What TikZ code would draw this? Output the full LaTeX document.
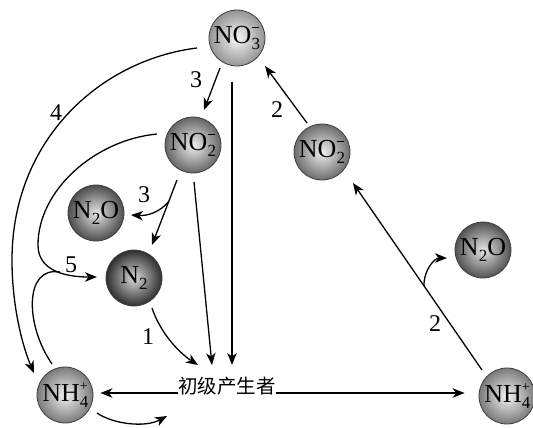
\documentclass[tikz,border=0pt]{standalone}
\usepackage{fontspec}
\setmainfont{Liberation Serif}
\newfontfamily\cjk{Noto Sans CJK SC}
\usetikzlibrary{arrows.meta,calc}

% small helpers for chemical formulas
\newcommand\subtxt[1]{\raisebox{-5.5pt}{\fontsize{17}{17}\selectfont #1}}
\newcommand\ionminus[2]{#1\rlap{\subtxt{#2}}\raisebox{16pt}{\rule{7.5pt}{1.1pt}}\kern1pt}
\newcommand\ionplus[2]{#1\rlap{\subtxt{#2}}\raisebox{11pt}{\fontsize{14}{14}\selectfont +}}

\tikzset{
  ball/.style={circle, minimum size=56pt, inner sep=0pt, draw=black!75,
    line width=0.8pt, font=\fontsize{26}{26}\selectfont},
  arr/.style={-{Stealth[length=12pt,width=9.5pt,inset=3.5pt]}, line width=1.3pt},
  plain/.style={line width=1.3pt},
  num/.style={font=\fontsize{24}{24}\selectfont, inner sep=0pt},
}

\begin{document}
\begin{tikzpicture}[x=1pt,y=-1pt]
\useasboundingbox (0,0) rectangle (533,428);

% molecules
\node[ball, inner color=black!3,  outer color=black!42] (no3)  at (237,38)  {\ionminus{NO}{3}};
\node[ball, inner color=black!6,  outer color=black!60] (no2a) at (193,145) {\ionminus{NO}{2}};
\node[ball, inner color=black!10, outer color=black!70] (n2oa) at (96,213)  {N\subtxt{2}O};
\node[ball, inner color=black!15, outer color=black!82] (n2)   at (134,278) {N\subtxt{2}};
\node[ball, inner color=black!5,  outer color=black!52] (nh4a) at (65,395)  {\ionplus{NH}{4}};
\node[ball, inner color=black!6,  outer color=black!57] (no2b) at (322,152) {\ionminus{NO}{2}};
\node[ball, inner color=black!10, outer color=black!68] (n2ob) at (483,250) {N\subtxt{2}O};
\node[ball, inner color=black!5,  outer color=black!52] (nh4b) at (507,396) {\ionplus{NH}{4}};

\node[inner sep=0pt, font=\cjk\fontsize{19.5}{19.5}\selectfont] (prod) at (227,386) {初级产生者};

% left cycle
\draw[arr] ($(no3)+(-17,30)$) -- ($(no2a)+(11,-35)$);
\draw[arr] ($(no3)+(-5,44)$) -- ($(prod)+(5,-21)$);
\draw[arr] ($(no2a)+(1,37)$) -- ($(prod)+(-15,-21)$);
\draw[arr] ($(no2a)+(-16,35)$) -- coordinate[pos=0.33] (fork1) ($(n2)+(18,-33)$);
\draw[arr] (fork1) .. controls (160,212) and (148,216) .. ($(n2oa)+(35,2)$);
\draw[arr] ($(n2)+(18,30)$) .. controls (160,332) and (178,352) .. ($(prod)+(-29,-21)$);

% nitrate to ammonium
\draw[arr] ($(no3)+(-40,10)$) .. controls (100,60) and (12,140) .. (12,260)
  .. controls (12,310) and (24,350) .. ($(nh4a)+(-31,-22)$);

% nitrite to dinitrogen, joined by the branch from ammonium
\draw[arr] ($(no2a)+(-36,-11)$) .. controls (95,140) and (38,190) .. (38,245)
  .. controls (38,268) and (60,277) .. ($(n2)+(-37,-1)$);
\coordinate (join5) at (60,272);
\draw[plain] ($(nh4a)+(-13,-31)$) .. controls (25,325) and (24,266) .. (join5);

% ammonium leaving at the bottom
\coordinate (loopend) at (167,416);
\draw[arr] ($(nh4a)+(32,18)$) .. controls (113,424) and (145,428) .. (loopend);

% producers and ammonium
\draw[arr] ($(prod.west)+(0,7)$) -- ($(nh4a.east)+(7,-2)$);
\draw[arr] ($(prod.east)+(0,7)$) -- ($(nh4b.west)+(-14,-3)$);

% right side nitrification
\draw[arr] ($(nh4b)+(-25,-26)$) -- coordinate[pos=0.45] (fork2) ($(no2b)+(31,31)$);
\draw[arr] (fork2) .. controls +(0,-17) and +(-12,0) .. ($(n2ob)+(-36,8)$);
\draw[arr] ($(no2b)+(-15,-29)$) -- ($(no3)+(28,28)$);

% step numbers
\node[num] (l3a) at (196,80)  {3};
\node[num] (l4)  at (56,113)  {4};
\node[num] (l3b) at (144,195) {3};
\node[num] (l5)  at (71,265)  {5};
\node[num] (l1)  at (148,337) {1};
\node[num] (l2a) at (277,110) {2};
\node[num] (l2b) at (435,324) {2};
\end{tikzpicture}
\end{document}
